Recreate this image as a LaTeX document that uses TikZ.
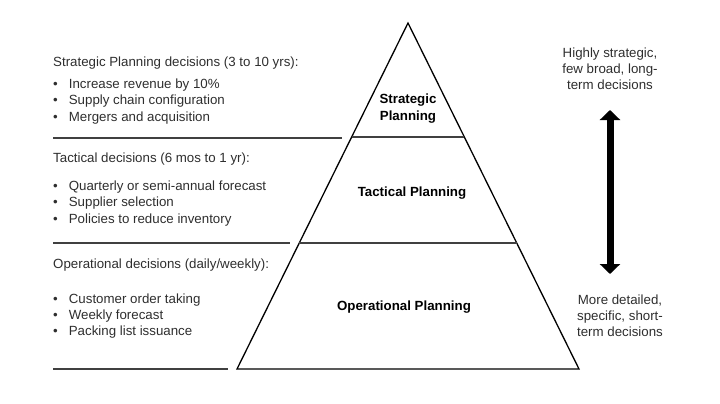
\documentclass[tikz,border=0pt]{standalone}
\usepackage{fontspec}
\setmainfont{Liberation Sans}
\usetikzlibrary{arrows.meta}
\definecolor{txt}{HTML}{2E2E2E}
\definecolor{rule}{HTML}{404040}
\begin{document}
\begin{tikzpicture}[x=1pt,y=-1pt,
  lbl/.style={anchor=west,inner sep=0pt,text=txt,font=\fontsize{13.3}{16}\selectfont},
  bul/.style={anchor=west,inner sep=0pt,text=txt,font=\fontsize{13.3}{16}\selectfont},
  lvl/.style={align=center,inner sep=0pt,font=\bfseries\fontsize{13.3}{17}\selectfont},
  side/.style={align=center,inner sep=0pt,text=txt,font=\fontsize{13.3}{16}\selectfont},
  sep/.style={draw=rule,line width=1.2pt}]
\useasboundingbox (0,0) rectangle (720,404);
% pyramid
\coordinate (apex) at (408,23);
\coordinate (bl) at (237,369);
\coordinate (br) at (579,369);
\draw[line width=1.3pt,line join=miter] (apex) -- (br) -- (bl) -- cycle;
\path (apex) -- (bl) coordinate[pos=0.3295] (s1l);
\path (apex) -- (br) coordinate[pos=0.3295] (s1r);
\path (apex) -- (bl) coordinate[pos=0.6358] (s2l);
\path (apex) -- (br) coordinate[pos=0.6358] (s2r);
\draw[sep] (s1l) -- (s1r);
\draw[sep] (s2l) -- (s2r);
% left separators
\coordinate (a1) at (53,138); \coordinate (a2) at (342,138);
\coordinate (b1) at (53,243); \coordinate (b2) at (290,243);
\coordinate (c1) at (53,369); \coordinate (c2) at (228,369);
\draw[sep] (a1) -- (a2);
\draw[sep] (b1) -- (b2);
\draw[sep] (c1) -- (c2);
% pyramid labels
\node[lvl] (sp) at (408,109) {Strategic\\Planning};
\node[lvl] (tp) at (412,193) {Tactical Planning};
\node[lvl] (op) at (404,307) {Operational Planning};
% left texts
\node[lbl] (h1) at (53,63) {Strategic Planning decisions (3 to 10 yrs):};
\node[bul] (i11) at (53,85) {\textbullet\hspace{11pt}Increase revenue by 10\%};
\node[bul] (i12) at (53,101) {\textbullet\hspace{11pt}Supply chain configuration};
\node[bul] (i13) at (53,118) {\textbullet\hspace{11pt}Mergers and acquisition};
\node[lbl] (h2) at (53,159) {Tactical decisions (6 mos to 1 yr):};
\node[bul] (i21) at (53,187) {\textbullet\hspace{11pt}Quarterly or semi-annual forecast};
\node[bul] (i22) at (53,203) {\textbullet\hspace{11pt}Supplier selection};
\node[bul] (i23) at (53,220) {\textbullet\hspace{11pt}Policies to reduce inventory};
\node[lbl] (h3) at (53,265) {Operational decisions (daily/weekly):};
\node[bul] (i31) at (53,300) {\textbullet\hspace{11pt}Customer order taking};
\node[bul] (i32) at (53,316) {\textbullet\hspace{11pt}Weekly forecast};
\node[bul] (i33) at (53,332) {\textbullet\hspace{11pt}Packing list issuance};
% right side
\node[side] (top) at (610,69) {Highly strategic,\\few broad, long-\\term decisions};
\node[side] (bot) at (620,316) {More detailed,\\specific, short-\\term decisions};
\coordinate (ar1) at (610,110);
\coordinate (ar2) at (610,274);
\draw[line width=7pt,{Triangle[width=20pt,length=10pt]}-{Triangle[width=20pt,length=10pt]}] (ar1) -- (ar2);
\end{tikzpicture}
\end{document}
